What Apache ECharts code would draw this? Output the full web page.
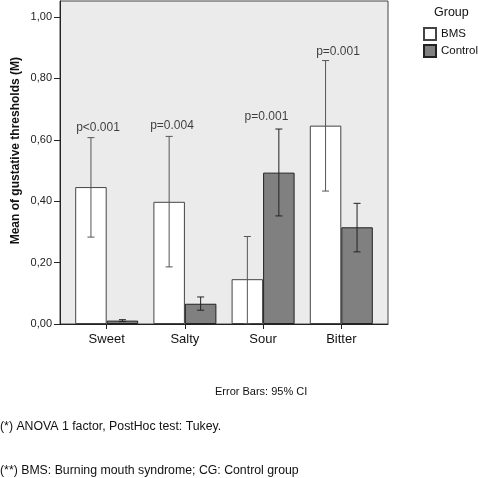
<!DOCTYPE html>
<html><head><meta charset="utf-8">
<script src="https://cdn.jsdelivr.net/npm/echarts@6/dist/echarts.min.js"></script>
<style>html,body{margin:0;padding:0;background:#fff}#c{width:478px;height:478px}</style>
</head><body><div id="c"></div>
<script>
const categories = ['Sweet', 'Salty', 'Sour', 'Bitter'];
const bmsMean = [0.446, 0.398, 0.146, 0.646];
const bmsLow  = [0.283, 0.186, 0.001, 0.433];
const bmsHigh = [0.607, 0.611, 0.285, 0.858];
const ctrlMean = [0.011, 0.066, 0.493, 0.315];
const ctrlLow  = [0.008, 0.045, 0.352, 0.235];
const ctrlHigh = [0.014, 0.088, 0.635, 0.393];
const yTicks = [0, 0.2, 0.4, 0.6, 0.8, 1.0];
const pLabels = ['p<0.001', 'p=0.004', 'p=0.001', 'p=0.001'];
const pLabelX = [-0.111, 0.835, 2.043, 2.958];
const pLabelY = [0.638, 0.645, 0.675, 0.886];

const FONT = 'Liberation Sans, Arial, sans-serif';
const HALF = 15.75;

function errSeries(name, low, high, offset, color) {
  return {
    type: 'custom', name: name + '_err', z: 5, silent: true,
    data: categories.map((c, i) => [i, low[i], high[i]]),
    renderItem: function (params, api) {
      const a = api.coord([api.value(0), api.value(1)]);
      const b = api.coord([api.value(0), api.value(2)]);
      const x = a[0] + offset, cap = 3.5;
      const st = { stroke: color, lineWidth: 1 };
      return { type: 'group', children: [
        { type: 'line', shape: { x1: x, y1: a[1], x2: x, y2: b[1] }, style: st },
        { type: 'line', shape: { x1: x - cap, y1: a[1], x2: x + cap, y2: a[1] }, style: st },
        { type: 'line', shape: { x1: x - cap, y1: b[1], x2: x + cap, y2: b[1] }, style: st }
      ]};
    }
  };
}

const chart = echarts.init(document.getElementById('c'));
chart.setOption({
  animation: false,
  textStyle: { fontFamily: FONT },
  grid: { left: 60, right: 90, top: 1, bottom: 154, show: true,
          backgroundColor: '#ebebeb', borderColor: '#444', borderWidth: 1 },
  xAxis: {
    type: 'value', min: -0.597, max: 3.597,
    axisLine: { show: true, onZero: false, lineStyle: { color: '#222' } },
    splitLine: { show: false },
    axisTick: { show: true, length: 5, customValues: [0, 1, 2, 3], lineStyle: { color: '#222' } },
    axisLabel: { customValues: [0, 1, 2, 3], margin: 9, fontSize: 13, color: '#111', fontFamily: FONT,
                 formatter: v => categories[Math.round(v)] }
  },
  yAxis: {
    type: 'value', min: 0, max: 1.052,
    axisLine: { show: true, onZero: false, lineStyle: { color: '#222' } },
    splitLine: { show: false },
    axisTick: { show: true, length: 6, customValues: yTicks, lineStyle: { color: '#222' } },
    axisLabel: { customValues: yTicks, margin: 8, fontSize: 11, color: '#222', fontFamily: FONT,
                 formatter: v => v.toFixed(2).replace('.', ',') }
  },
  legend: {
    orient: 'vertical', left: 423, top: 27, padding: 0, itemWidth: 12, itemHeight: 12, itemGap: 3,
    icon: 'rect',
    data: ['BMS', 'Control'],
    textStyle: { fontSize: 11.5, color: '#111', fontFamily: FONT }
  },
  series: [
    { type: 'bar', name: 'BMS', barWidth: 31.5, barGap: '0%',
      itemStyle: { color: '#ffffff', borderColor: '#444', borderWidth: 1 },
      data: bmsMean.map((v, i) => [i, v]) },
    { type: 'bar', name: 'Control', barWidth: 31.5, barGap: '0%',
      itemStyle: { color: '#808080', borderColor: '#222', borderWidth: 1 },
      data: ctrlMean.map((v, i) => [i, v]) },
    errSeries('BMS', bmsLow, bmsHigh, -HALF, '#555'),
    errSeries('Control', ctrlLow, ctrlHigh, HALF, '#222'),
    { type: 'scatter', symbolSize: 0, silent: true, z: 6,
      data: pLabels.map((t, i) => ({ value: [pLabelX[i], pLabelY[i]], name: t })),
      label: { show: true, position: 'inside', formatter: p => p.name, fontSize: 12, color: '#111', fontFamily: FONT } }
  ],
  graphic: [
    { type: 'text', left: 10, top: 57, rotation: Math.PI / 2,
      style: { text: 'Mean of gustative thresholds (M)', font: 'bold 12px ' + FONT, fill: '#111' } },
    { type: 'text', left: 434, top: 6, style: { text: 'Group', font: '12.5px ' + FONT, fill: '#111' } },
    { type: 'text', left: 215, top: 386, style: { text: 'Error Bars: 95% CI', font: '11px ' + FONT, fill: '#111' } },
    { type: 'text', left: 0, top: 421, style: { text: '(*) ANOVA 1 factor, PostHoc test: Tukey.', font: '12.3px ' + FONT, fill: '#111' } },
    { type: 'text', left: 0, top: 465, style: { text: '(**) BMS: Burning mouth syndrome; CG: Control group', font: '12.3px ' + FONT, fill: '#111' } }
  ]
});
</script></body></html>
